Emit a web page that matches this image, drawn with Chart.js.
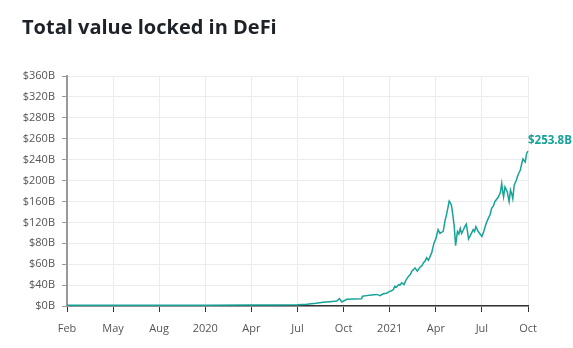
<!DOCTYPE html>
<html>
<head>
<meta charset="utf-8">
<script src="https://cdn.jsdelivr.net/npm/chart.js@4"></script>
<style>
  body { margin: 0; background: #fff; }
  canvas { display: block; }
</style>
</head>
<body>
<canvas id="tvl" width="573" height="348"></canvas>
<script>
const xTickLabels = ['Feb', 'May', 'Aug', '2020', 'Apr', 'Jul', 'Oct', '2021', 'Apr', 'Jul', 'Oct'];
const yTickLabels = ['$0B', '$40B', '$60B', '$80B', '$120B', '$160B', '$200B', '$240B', '$260B', '$280B', '$320B', '$360B'];
const yTop = 377;

// time of each sample, in axis steps (one step per x tick label)
const tvlAt = [
  0, 1, 2, 3, 4, 4.5, 5, 5.2, 5.4, 5.56,
  5.7, 5.85, 5.91, 5.96, 6.07, 6.2, 6.39, 6.41, 6.5, 6.6,
  6.72, 6.79, 6.86, 6.93, 7.0, 7.04, 7.08, 7.11, 7.15, 7.19,
  7.22, 7.26, 7.31, 7.35, 7.41, 7.45, 7.48, 7.52, 7.55, 7.6,
  7.66, 7.7, 7.73, 7.77, 7.8, 7.84, 7.91, 7.96, 8.0, 8.05,
  8.09, 8.13, 8.16, 8.2, 8.23, 8.26, 8.29, 8.31, 8.34, 8.37,
  8.4, 8.43, 8.45, 8.47, 8.5, 8.53, 8.56, 8.6, 8.63, 8.66,
  8.68, 8.71, 8.73, 8.76, 8.81, 8.84, 8.87, 8.92, 8.96, 9.0,
  9.04, 9.07, 9.1, 9.14, 9.18, 9.21, 9.25, 9.28, 9.32, 9.36,
  9.4, 9.43, 9.45, 9.47, 9.5, 9.52, 9.55, 9.59, 9.62, 9.65,
  9.67, 9.7, 9.74, 9.77, 9.8, 9.83, 9.86, 9.89, 9.92, 9.94,
  9.97, 10
];
// total value locked, billions of USD
const tvlBillions = [
  1.2, 1.3, 1.3, 1.4, 1.5, 1.6, 2, 3, 4.5, 6,
  7, 8, 12, 6.5, 11, 11.5, 12, 16, 17, 18,
  19, 17, 20, 21, 24, 25, 27, 32.5, 31, 35,
  34, 38, 35, 42, 49, 52, 57, 60, 62.5, 57,
  64, 66, 70.6, 74, 79, 75, 87, 103, 110, 125,
  119, 121, 122, 140, 149, 160, 172, 170, 165, 149,
  130, 99, 112, 122, 118, 127, 119, 125, 130, 134,
  126, 110, 113, 117, 125, 122, 130, 122, 118, 114,
  122, 130, 137, 144, 150, 160, 164, 171, 175, 179,
  186, 201, 188, 179, 195, 192, 187, 171, 190, 183,
  176, 198, 205, 212, 218, 222, 232, 241, 238, 236,
  250, 253.8
];

const teal = '#17a397';

// writes the latest value next to the end of the line
const lastValueLabel = {
  id: 'lastValueLabel',
  afterDatasetsDraw(chart) {
    const pts = chart.getDatasetMeta(0).data;
    const last = pts[pts.length - 1];
    const ctx = chart.ctx;
    ctx.save();
    ctx.fillStyle = teal;
    ctx.font = 'bold 11.5px "Open Sans"';
    ctx.textAlign = 'left';
    ctx.textBaseline = 'middle';
    ctx.fillText('$' + tvlBillions[tvlBillions.length - 1].toFixed(1) + 'B', last.x, last.y - 10);
    ctx.restore();
  }
};

new Chart(document.getElementById('tvl'), {
  type: 'line',
  data: {
    datasets: [{
      data: tvlAt.map((x, i) => ({ x: x, y: tvlBillions[i] })),
      borderColor: teal,
      borderWidth: 1.5,
      pointRadius: 0,
      tension: 0,
      fill: false,
      clip: 4
    }]
  },
  options: {
    responsive: false,
    animation: false,
    devicePixelRatio: 1,
    layout: { padding: { left: 22, right: 45, top: 0, bottom: 0 } },
    plugins: {
      legend: { display: false },
      tooltip: { enabled: false },
      title: {
        display: true,
        text: 'Total value locked in DeFi',
        align: 'start',
        color: '#1d2228',
        font: { family: 'Open Sans', size: 20, weight: 'bold' },
        padding: { top: 16, bottom: 36 }
      }
    },
    scales: {
      x: {
        type: 'linear',
        min: 0,
        max: 10,
        afterBuildTicks: (scale) => {
          scale.ticks = xTickLabels.map((_, i) => ({ value: i }));
        },
        afterFit: (scale) => { scale.height = 42; },
        ticks: {
          callback: (v, i) => xTickLabels[i],
          color: '#555',
          font: { family: 'Open Sans', size: 11 },
          padding: 10,
          maxRotation: 0,
          autoSkip: false
        },
        grid: { color: '#ececec', tickColor: '#333', tickLength: 6 },
        border: { color: '#333', width: 1.5 }
      },
      y: {
        type: 'linear',
        min: 0,
        max: yTop,
        afterBuildTicks: (scale) => {
          scale.ticks = yTickLabels.map((_, i) => ({ value: i * yTop / (yTickLabels.length - 1) }));
        },
        afterFit: (scale) => { scale.width = 45; },
        ticks: {
          callback: (v, i) => yTickLabels[i],
          color: '#555',
          font: { family: 'Open Sans', size: 11 },
          padding: 7,
          autoSkip: false
        },
        grid: { color: '#ececec', tickColor: '#999', tickLength: 5 },
        border: { color: '#999', width: 2 }
      }
    }
  },
  plugins: [lastValueLabel]
});
</script>
</body>
</html>
